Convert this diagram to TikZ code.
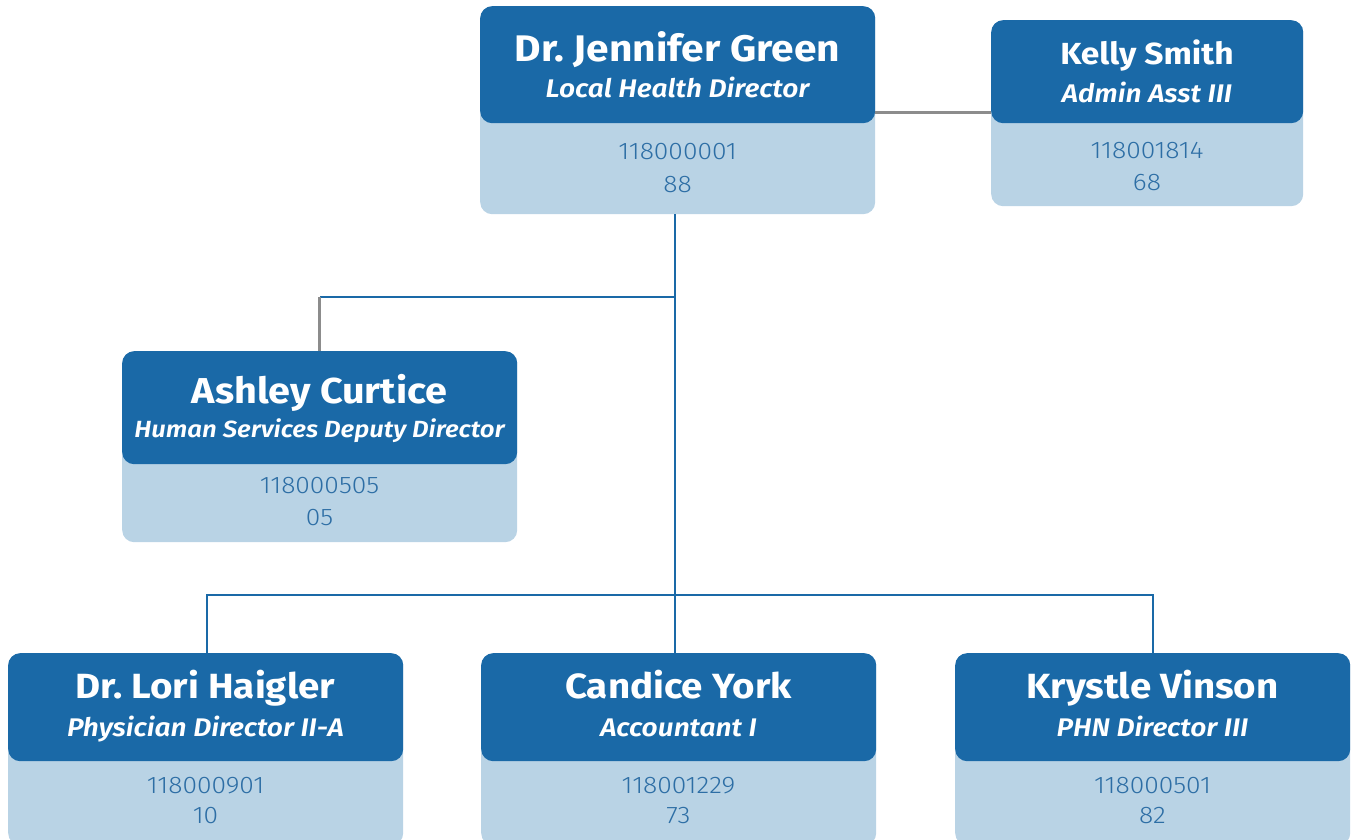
\documentclass[tikz,border=0pt]{standalone}
\usepackage{fontspec}
\setmainfont{Fira Sans}[FakeStretch=1.1]
\newfontfamily\numfont{Fira Sans Light}[FakeStretch=1.1]
\newfontfamily\titlefont{Fira Sans SemiBold Italic}[FakeStretch=1.1]
\definecolor{darkblue}{HTML}{1A69A7}
\definecolor{lightblue}{HTML}{B9D3E5}
\definecolor{numblue}{HTML}{2D6EA5}
\definecolor{linegray}{HTML}{8C8C8C}
\frenchspacing
\begin{document}
\begin{tikzpicture}[x=1pt,y=-1pt,
  bodybox/.style={fill=lightblue, draw=none, rounded corners=12pt, anchor=north west, inner sep=0pt},
  headbox/.style={fill=darkblue, draw=none, rounded corners=12pt, anchor=north west, inner sep=0pt},
  nametext/.style={text=white, anchor=base, inner sep=0pt, font=\bfseries\fontsize{#1}{#1}\selectfont},
  titletext/.style={text=white, anchor=base, inner sep=0pt, font=\titlefont\fontsize{#1}{#1}\selectfont},
  numtext/.style={text=numblue, anchor=base, inner sep=0pt, font=\numfont\fontsize{24}{24}\selectfont},
  blueline/.style={draw=darkblue, line width=2.8pt},
  grayline/.style={draw=linegray, line width=2.8pt}]
\useasboundingbox (0,0) rectangle (1352,840);

% Jennifer Green
\node[bodybox, minimum width=395pt, minimum height=208pt] (jg) at (480,6) {};
\node[headbox, minimum width=395pt, minimum height=117pt] (jgh) at (480,6) {};
\node[nametext=37] (jgn) at (677.5,62) {Dr.\ Jennifer Green};
\node[titletext=25.5] (jgt) at (677.5,98) {Local Health Director};
\node[numtext] (jgc) at (677.5,160) {118000001};
\node[numtext] (jgd) at (677.5,192) {88};

% Kelly Smith
\node[bodybox, minimum width=312pt, minimum height=186pt] (ks) at (991,20) {};
\node[headbox, minimum width=312pt, minimum height=103pt] (ksh) at (991,20) {};
\node[nametext=30.5] (ksn) at (1147,65) {Kelly Smith};
\node[titletext=25.5] (kst) at (1147,103) {Admin Asst III};
\node[numtext] (ksc) at (1147,159) {118001814};
\node[numtext] (ksd) at (1147,190) {68};

% Ashley Curtice
\node[bodybox, minimum width=395pt, minimum height=191pt] (ac) at (122,351) {};
\node[headbox, minimum width=395pt, minimum height=113pt] (ach) at (122,351) {};
\node[nametext=36] (acn) at (319.5,403) {Ashley Curtice};
\node[titletext=23.4] (act) at (319.5,437) {Human Services Deputy Director};
\node[numtext] (acc) at (319.5,493) {118000505};
\node[numtext] (acd) at (319.5,525) {05};

% Lori Haigler
\node[bodybox, minimum width=395pt, minimum height=192pt] (lh) at (8,653) {};
\node[headbox, minimum width=395pt, minimum height=108pt] (lhh) at (8,653) {};
\node[nametext=35] (lhn) at (205.5,698) {Dr.\ Lori Haigler};
\node[titletext=25.5] (lht) at (205.5,736) {Physician Director II-A};
\node[numtext] (lhc) at (205.5,793) {118000901};
\node[numtext] (lhd) at (205.5,823) {10};

% Candice York
\node[bodybox, minimum width=395pt, minimum height=192pt] (cy) at (481,653) {};
\node[headbox, minimum width=395pt, minimum height=108pt] (cyh) at (481,653) {};
\node[nametext=35] (cyn) at (678.5,698) {Candice York};
\node[titletext=25.5] (cyt) at (678.5,736) {Accountant I};
\node[numtext] (cyc) at (678.5,793) {118001229};
\node[numtext] (cyd) at (678.5,823) {73};

% Krystle Vinson
\node[bodybox, minimum width=395pt, minimum height=192pt] (kv) at (955,653) {};
\node[headbox, minimum width=395pt, minimum height=108pt] (kvh) at (955,653) {};
\node[nametext=35] (kvn) at (1152.5,698) {Krystle Vinson};
\node[titletext=25.5] (kvt) at (1152.5,736) {PHN Director III};
\node[numtext] (kvc) at (1152.5,793) {118000501};
\node[numtext] (kvd) at (1152.5,823) {82};

% connectors
\coordinate (trunk) at (675,214);
\coordinate (jA) at (675,297);
\coordinate (bus) at (675,595);
\draw[grayline] ([yshift=11pt]jgh.south east) -- ([yshift=11pt]jgh.south east -| ksh.west);
\draw[blueline] (jg.south -| trunk) -- (cyh.north -| trunk);
\draw[blueline] (jA) -- (jA -| ach.north);
\draw[grayline] (ach.north) -- (jA -| ach.north);
\draw[blueline] (lhh.north -| 207,0) |- (bus) -| (kvh.north -| 1153,0);
\end{tikzpicture}
\end{document}
